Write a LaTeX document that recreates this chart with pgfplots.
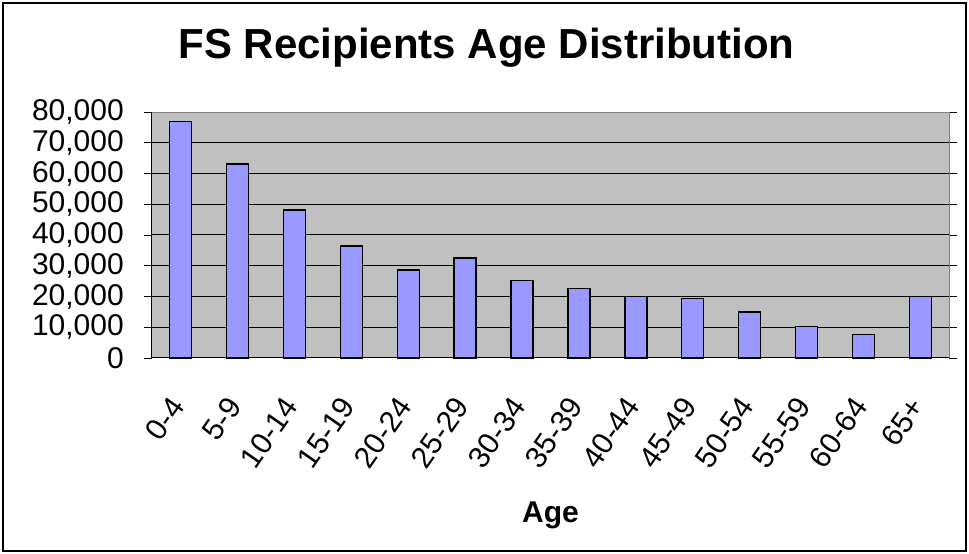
\documentclass[border=0pt]{standalone}
\usepackage{pgfplots}
\pgfplotsset{compat=1.18}
\usepackage{fontspec}
\setmainfont{Liberation Sans}
\definecolor{barfill}{HTML}{9999FF}
\definecolor{plotbg}{HTML}{C0C0C0}
\definecolor{frame}{HTML}{808080}
\begin{document}
\begin{tikzpicture}[x=1pt,y=1pt]
\useasboundingbox (0,0) rectangle (969,554);
\draw[line width=1.5pt, black] (3,3) rectangle (966,551);
\begin{axis}[
  at={(152pt,196pt)}, anchor=south west,
  scale only axis, width=797pt, height=246pt,
  ybar, bar width=22pt, bar shift=0pt,
  xmin=-0.5, xmax=13.5, ymin=0, ymax=80000,
  axis background/.style={fill=plotbg},
  axis line style={draw=frame, line width=1pt},
  xtick={0,...,13},
  xticklabels={0-4,5-9,10-14,15-19,20-24,25-29,30-34,35-39,40-44,45-49,50-54,55-59,60-64,65+},
  x tick style={draw=none},
  extra x ticks={-0.5,0.5,...,13.5},
  extra x tick labels={},
  extra x tick style={grid=none, major tick length=9pt, tick style={draw=black, line width=0.8pt}},
  ytick={0,10000,...,80000},
  tick align=outside, major tick length=8pt,
  y tick style={draw=black, line width=0.8pt},
  ymajorgrids, grid style={draw=black, line width=1pt},
  scaled y ticks=false,
  /pgf/number format/.cd, 1000 sep={,}, assume math mode=true, /pgfplots/.cd,
  yticklabel style={anchor=east, inner sep=0pt, font=\fontsize{30}{32}\selectfont},
  yticklabel shift=20pt,
  xticklabel style={xshift=-12pt, rotate=55, anchor=north east, inner sep=0pt, font=\fontsize{30}{32}\selectfont},
  xticklabel shift=29pt,
  title={FS Recipients Age Distribution},
  title style={at={(rel axis cs:0.5,1)}, anchor=base, yshift=47pt, xshift=-64pt, inner sep=0pt, font=\bfseries\fontsize{42}{44}\selectfont},
  xlabel={Age},
  xlabel style={at={(rel axis cs:0.5,0)}, anchor=base, yshift=-164pt, inner sep=0pt, font=\bfseries\fontsize{30}{32}\selectfont},
  clip=false,
]
\addplot[fill=barfill, draw=black, line width=1.3pt] coordinates {
 (0,76800) (1,63100) (2,48100) (3,36400) (4,28600) (5,32500) (6,25300)
 (7,22600) (8,20100) (9,19300) (10,15000) (11,10300) (12,7700) (13,20100)
};
\draw[black, line width=1pt] (rel axis cs:0,0) -- (rel axis cs:0,1);
\draw[black, line width=1pt] (rel axis cs:0,0) -- (rel axis cs:1,0);
\end{axis}
\end{tikzpicture}
\end{document}
